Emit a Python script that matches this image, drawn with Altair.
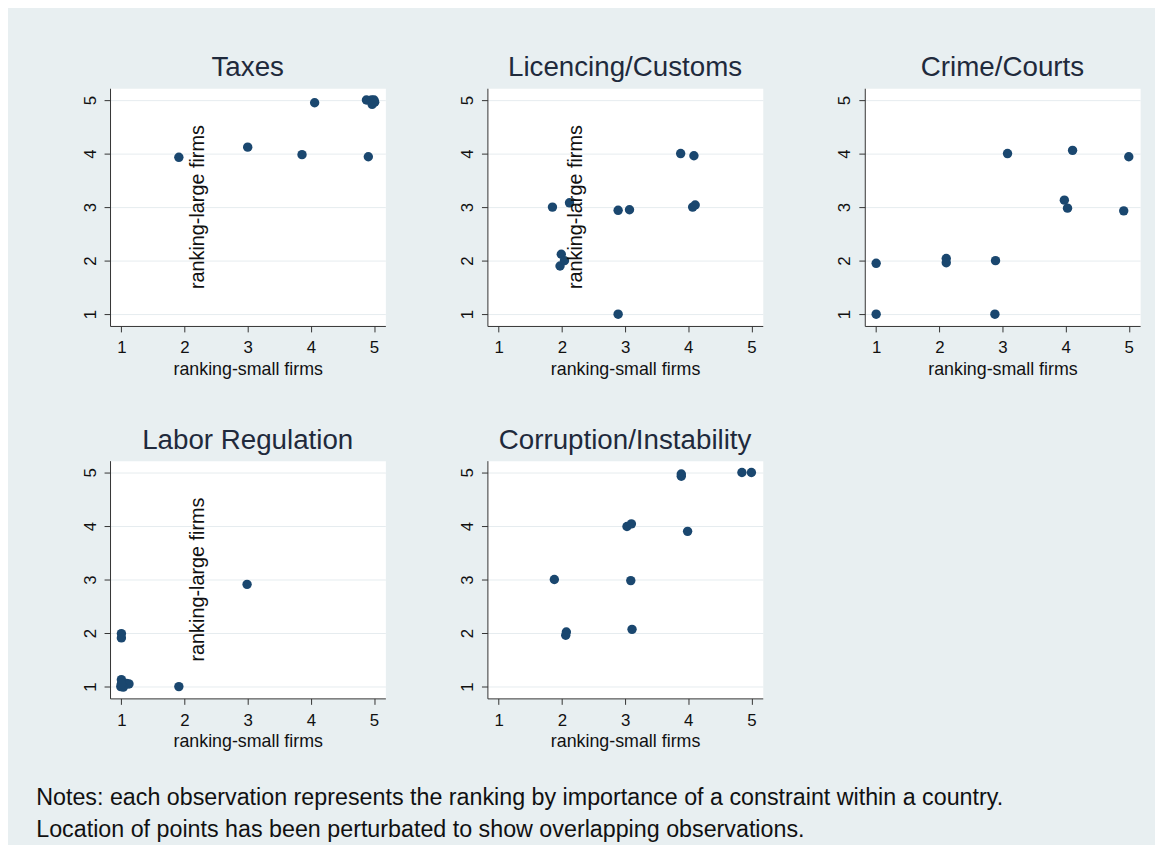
import altair as alt
import pandas as pd

# ---- data ----
taxes_x = [1.91, 3.00, 3.86, 4.91, 4.06, 4.88, 4.96, 5.00, 4.97, 5.01]
taxes_y = [3.93, 4.12, 3.98, 3.94, 4.95, 5.00, 5.00, 5.00, 4.92, 4.96]

lic_x = [1.85, 2.12, 1.99, 1.97, 2.04, 2.89, 3.07, 2.89, 3.88, 4.09, 4.07, 4.11]
lic_y = [3.00, 3.08, 2.12, 1.90, 2.00, 2.94, 2.95, 1.00, 4.00, 3.96, 3.00, 3.04]

crime_x = [1.00, 1.00, 2.11, 2.11, 2.89, 2.88, 3.08, 4.11, 5.00, 3.98, 4.03, 4.92]
crime_y = [1.00, 1.95, 2.04, 1.96, 2.00, 1.00, 4.00, 4.06, 3.94, 3.13, 2.98, 2.93]

labor_x = [2.99, 1.91, 1.00, 1.00, 1.00, 0.99, 1.04, 1.08, 1.12, 1.03, 1.00]
labor_y = [2.91, 1.00, 1.99, 1.91, 1.13, 1.00, 1.02, 1.06, 1.05, 0.99, 1.05]

corr_x = [1.88, 2.07, 2.06, 3.09, 3.11, 3.03, 3.10, 3.99, 3.89, 3.89, 4.85, 5.00]
corr_y = [3.00, 2.02, 1.96, 2.98, 2.07, 3.99, 4.04, 3.90, 4.97, 4.93, 5.00, 5.00]

panel_titles = ["Taxes", "Licencing/Customs", "Crime/Courts",
                "Labor Regulation", "Corruption/Instability"]
panel_x = [taxes_x, lic_x, crime_x, labor_x, corr_x]
panel_y = [taxes_y, lic_y, crime_y, labor_y, corr_y]
# panels where the y-axis title appears inside the plot area
inner_title = [True, True, False, True, False]

x_title = "ranking-small firms"
y_title = "ranking-large firms"
tick_values = [1, 2, 3, 4, 5]
notes = ["Notes: each observation represents the ranking by importance of a constraint within a country.",
         "Location of points has been perturbated to show overlapping observations."]

FONT = "Liberation Sans"
DOT = "#1a476f"
TXT = "#1f2a3c"


def panel(title, xs, ys, with_inner):
    df = pd.DataFrame({"x": xs, "y": ys})
    xsc = alt.Scale(domain=[0.82, 5.18], nice=False, zero=False)
    ysc = alt.Scale(domain=[0.78, 5.22], nice=False, zero=False)
    xax = alt.Axis(values=tick_values, format="d", title=x_title, grid=False,
                   labelFontSize=17, titleFontSize=18,
                   titleFontWeight="normal", titlePadding=5,
                   labelPadding=8, tickSize=6)
    yax = alt.Axis(values=tick_values, format="d", title=None, grid=True,
                   labelFontSize=17, labelAngle=270,
                   labelAlign="center", labelBaseline="bottom",
                   labelPadding=5, tickSize=6)
    pts = alt.Chart(df).mark_circle(size=90, opacity=1, color=DOT).encode(
        x=alt.X("x:Q", scale=xsc, axis=xax),
        y=alt.Y("y:Q", scale=ysc, axis=yax),
    )
    layers = [pts]
    if with_inner:
        tdf = pd.DataFrame({"x": [2.22], "y": [3.0], "t": [y_title]})
        txt = alt.Chart(tdf).mark_text(angle=270, fontSize=20, font=FONT,
                                       color="#111111", align="center",
                                       baseline="middle").encode(
            x=alt.X("x:Q", scale=xsc, axis=xax),
            y=alt.Y("y:Q", scale=ysc, axis=yax),
            text="t:N")
        layers.append(txt)
    return alt.layer(*layers).properties(
        width=278, height=240,
        title=alt.TitleParams(title, fontSize=28, font=FONT,
                              fontWeight="normal", color=TXT, offset=6))


charts = [panel(panel_titles[i], panel_x[i], panel_y[i], inner_title[i])
          for i in range(5)]

row1 = alt.hconcat(charts[0], charts[1], charts[2], spacing=72)
row2 = alt.hconcat(charts[3], charts[4], spacing=72)

chart = alt.vconcat(row1, row2, spacing=47).properties(
    title=alt.TitleParams(notes, orient="bottom", anchor="start",
                          fontSize=23.5, font=FONT, fontWeight="normal",
                          color="#111111", lineHeight=32, offset=35, dx=-45),
    background="#e8eff1",
    padding={"left": 28, "top": 42, "right": 14, "bottom": 0},
).configure_view(fill="white", stroke="transparent").configure_axis(
    labelFont=FONT, titleFont=FONT, labelColor="#111111", titleColor="#111111",
    domainColor="#333333", tickColor="#333333", gridColor="#e6ecef",
    gridWidth=1,
)

chart.save("out.html", embed_options={"renderer": "svg", "actions": False})
